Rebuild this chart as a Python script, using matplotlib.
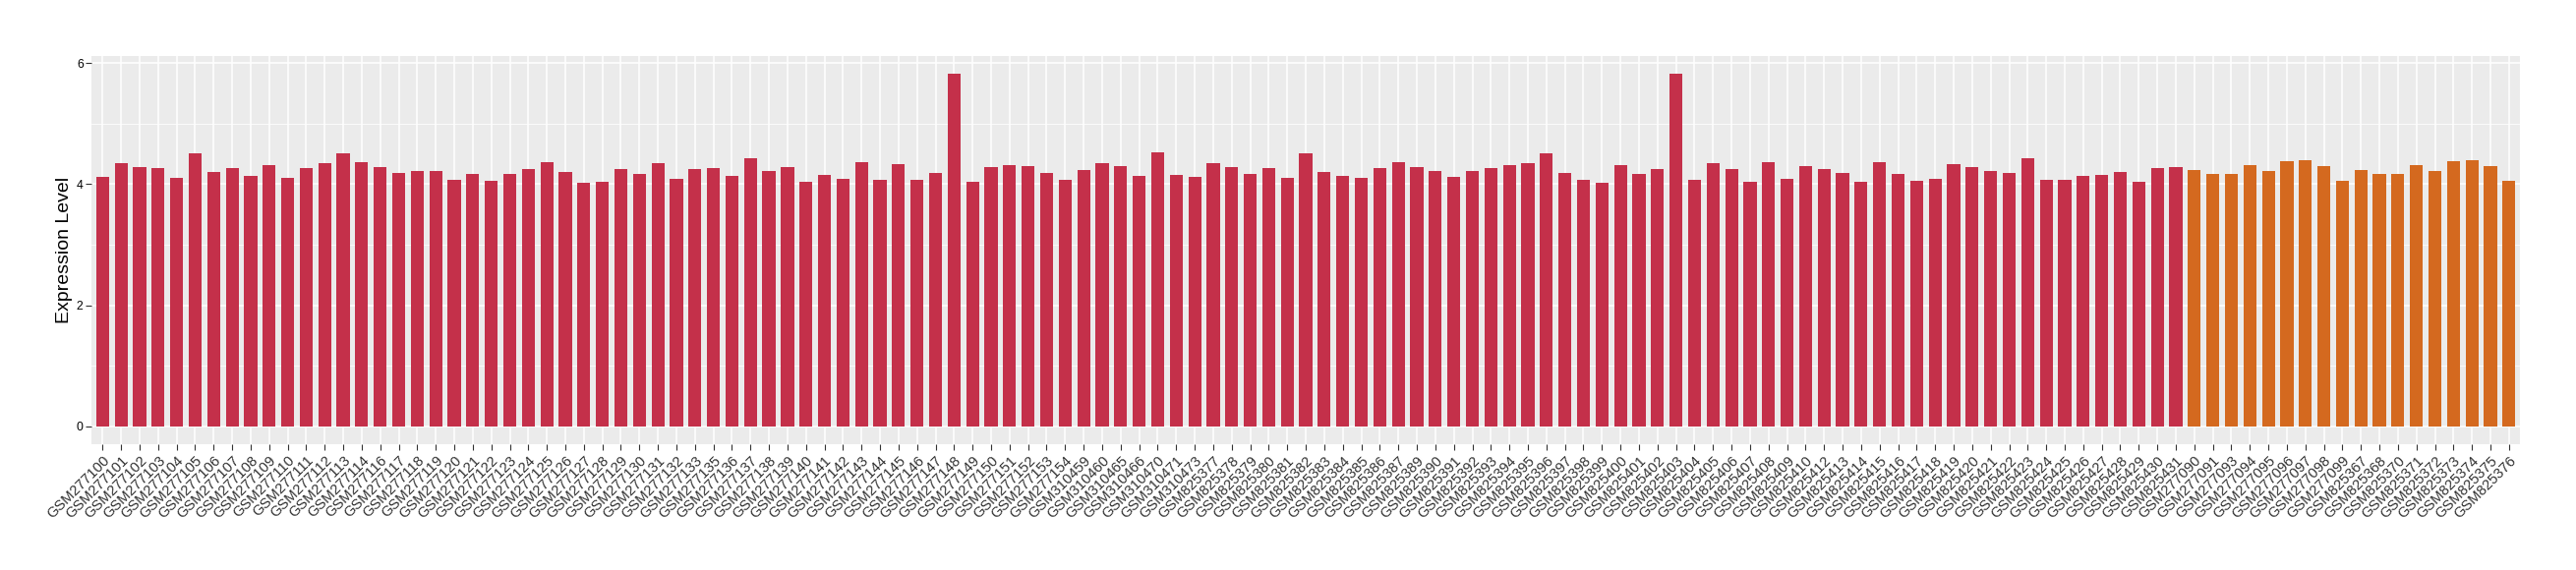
import matplotlib
matplotlib.use("Agg")
import matplotlib.pyplot as plt
from matplotlib.ticker import MultipleLocator

plt.rcParams['font.family'] = ['Liberation Sans', 'DejaVu Sans']

# samples in the first group (red bars)
names_red = [
    "GSM277100", "GSM277101", "GSM277102", "GSM277103", "GSM277104", "GSM277105",
    "GSM277106", "GSM277107", "GSM277108", "GSM277109", "GSM277110", "GSM277111",
    "GSM277112", "GSM277113", "GSM277114", "GSM277116", "GSM277117", "GSM277118",
    "GSM277119", "GSM277120", "GSM277121", "GSM277122", "GSM277123", "GSM277124",
    "GSM277125", "GSM277126", "GSM277127", "GSM277128", "GSM277129", "GSM277130",
    "GSM277131", "GSM277132", "GSM277133", "GSM277135", "GSM277136", "GSM277137",
    "GSM277138", "GSM277139", "GSM277140", "GSM277141", "GSM277142", "GSM277143",
    "GSM277144", "GSM277145", "GSM277146", "GSM277147", "GSM277148", "GSM277149",
    "GSM277150", "GSM277151", "GSM277152", "GSM277153", "GSM277154",
    "GSM310459", "GSM310460", "GSM310465", "GSM310466", "GSM310470", "GSM310471",
    "GSM310473",
    "GSM825377", "GSM825378", "GSM825379", "GSM825380", "GSM825381", "GSM825382",
    "GSM825383", "GSM825384", "GSM825385", "GSM825386", "GSM825387", "GSM825389",
    "GSM825390", "GSM825391", "GSM825392", "GSM825393", "GSM825394", "GSM825395",
    "GSM825396", "GSM825397", "GSM825398", "GSM825399", "GSM825400", "GSM825401",
    "GSM825402", "GSM825403", "GSM825404", "GSM825405", "GSM825406", "GSM825407",
    "GSM825408", "GSM825409", "GSM825410", "GSM825412", "GSM825413", "GSM825414",
    "GSM825415", "GSM825416", "GSM825417", "GSM825418", "GSM825419", "GSM825420",
    "GSM825421", "GSM825422", "GSM825423", "GSM825424", "GSM825425", "GSM825426",
    "GSM825427", "GSM825428", "GSM825429", "GSM825430", "GSM825431",
]
values_red = [
    4.12, 4.35, 4.28, 4.27, 4.10, 4.51, 4.20, 4.27, 4.14, 4.32, 4.10, 4.27,
    4.35, 4.51, 4.36, 4.28, 4.19, 4.22, 4.22, 4.07, 4.17, 4.06, 4.17, 4.25,
    4.36, 4.20, 4.02, 4.04, 4.25, 4.17, 4.35, 4.09,
    4.25, 4.27, 4.14, 4.43, 4.22, 4.28, 4.04, 4.15, 4.09, 4.36, 4.07, 4.33,
    4.07, 4.19, 5.83, 4.04, 4.28, 4.32, 4.30, 4.19, 4.07, 4.23, 4.35, 4.30,
    4.14, 4.53, 4.15, 4.12, 4.35, 4.28, 4.17, 4.27, 4.10, 4.51, 4.20, 4.14, 4.10,
    4.27, 4.36, 4.28, 4.22, 4.12, 4.22, 4.27, 4.32, 4.35, 4.51, 4.19, 4.07,
    4.02, 4.32, 4.17, 4.25, 5.83, 4.07, 4.35, 4.25, 4.04, 4.36, 4.09, 4.30,
    4.25, 4.19, 4.04, 4.36, 4.17, 4.06, 4.09, 4.33, 4.28, 4.22, 4.19, 4.43, 4.07,
    4.07, 4.14, 4.15, 4.20, 4.04, 4.27, 4.28,
]

# samples in the second group (orange bars)
names_orange = [
    "GSM277090", "GSM277091", "GSM277093", "GSM277094", "GSM277095", "GSM277096",
    "GSM277097", "GSM277098", "GSM277099", "GSM825367", "GSM825368", "GSM825370",
    "GSM825371", "GSM825372", "GSM825373", "GSM825374", "GSM825375", "GSM825376",
]
values_orange = [
    4.23, 4.17, 4.17, 4.32, 4.22, 4.38, 4.40, 4.30, 4.06,
    4.23, 4.17, 4.17, 4.32, 4.22, 4.38, 4.40, 4.30, 4.06,
]

red = "#C4304A"
orange = "#D4691F"

names = names_red + names_orange
values = values_red + values_orange
colors = [red] * len(names_red) + [orange] * len(names_orange)

fig = plt.figure(figsize=(26.2, 5.8), dpi=100)
ax = fig.add_axes([0.0355, 0.2212, 0.9428, 0.681])
ax.set_facecolor("#EBEBEB")

x = list(range(len(names)))
ax.bar(x, values, width=0.7, color=colors, zorder=3)

ax.set_xlim(-0.6, len(names) - 0.4)
ax.set_ylim(-0.2915, 6.1215)
ax.set_yticks([0, 2, 4, 6])
ax.yaxis.set_minor_locator(MultipleLocator(1))
ax.set_xticks(x)
ax.set_xticklabels(names, rotation=45, ha="right", va="top",
                   rotation_mode="anchor", fontsize=10.6, color="black")
ax.tick_params(axis="y", labelsize=8.7, colors="#333333", labelcolor="black",
               length=4, width=0.8, pad=2)
ax.tick_params(axis="x", colors="#333333", length=4, width=0.8, pad=3)
ax.tick_params(axis="y", which="minor", length=0)

ax.grid(True, which="major", color="white", linewidth=1.1, zorder=0)
ax.grid(True, which="minor", axis="y", color="white", linewidth=0.55, zorder=0)
ax.set_axisbelow(True)
for s in ax.spines.values():
    s.set_visible(False)

ax.set_ylabel("Expression Level", fontsize=14, labelpad=3)

fig.savefig("out.png", dpi=100)
